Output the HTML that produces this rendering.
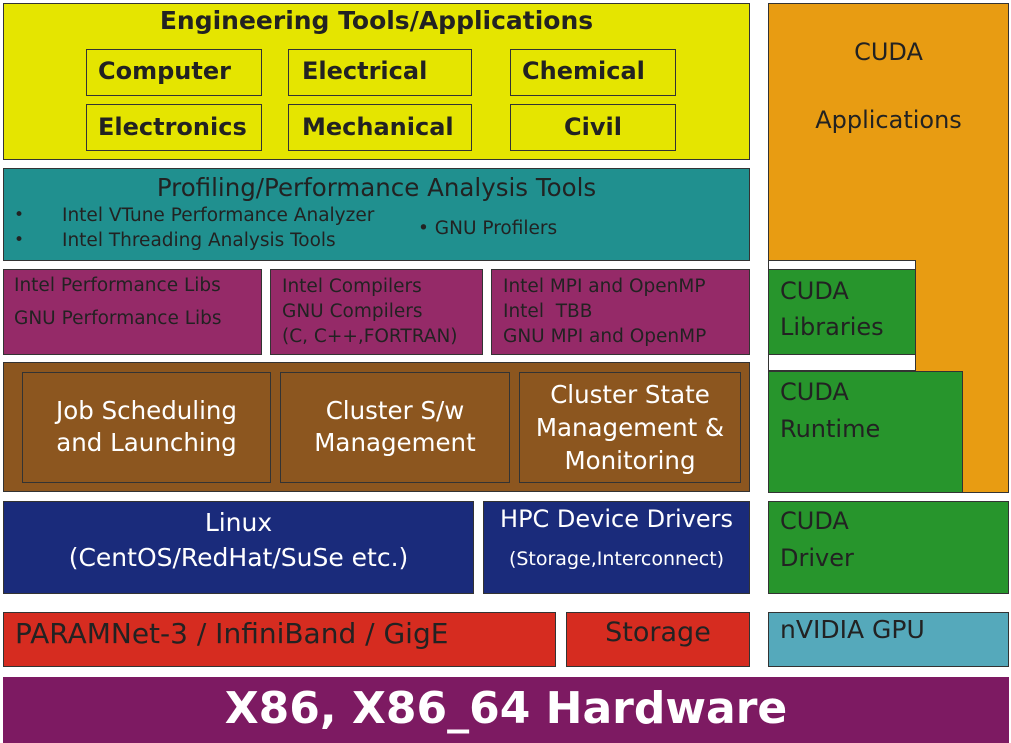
<!DOCTYPE html>
<html><head><style>
body{margin:0;width:1011px;height:743px;background:#fff;position:relative;overflow:hidden;font-family:"DejaVu Sans","Liberation Sans",sans-serif;}
.b{position:absolute;box-sizing:border-box;border:1.5px solid #333;}
.t{position:absolute;white-space:nowrap;color:#222;}
.c{text-align:center;}
.w{color:#fff;}
</style></head><body>
<div class="b" style="left:3px;top:3px;width:747px;height:157px;background:#e5e500"></div>
<div class="t c" style="left:3px;top:6px;width:747px;font-size:25px;font-weight:bold">Engineering Tools/Applications</div>
<div class="b" style="left:86px;top:49px;width:176px;height:47px;"></div>
<div class="b" style="left:288px;top:49px;width:184px;height:47px;"></div>
<div class="b" style="left:510px;top:49px;width:166px;height:47px;"></div>
<div class="b" style="left:86px;top:104px;width:176px;height:47px;"></div>
<div class="b" style="left:288px;top:104px;width:184px;height:47px;"></div>
<div class="b" style="left:510px;top:104px;width:166px;height:47px;"></div>
<div class="t" style="left:98px;top:57px;font-size:24px;font-weight:bold">Computer</div>
<div class="t" style="left:302px;top:57px;font-size:24px;font-weight:bold">Electrical</div>
<div class="t" style="left:522px;top:57px;font-size:24px;font-weight:bold">Chemical</div>
<div class="t" style="left:98px;top:113px;font-size:24px;font-weight:bold">Electronics</div>
<div class="t" style="left:302px;top:113px;font-size:24px;font-weight:bold">Mechanical</div>
<div class="t" style="left:564px;top:113px;font-size:24px;font-weight:bold">Civil</div>

<div class="b" style="left:3px;top:168px;width:747px;height:93px;background:#20908f"></div>
<div class="t c" style="left:3px;top:173px;width:747px;font-size:24.5px">Profiling/Performance Analysis Tools</div>
<div class="t" style="left:14px;top:205px;font-size:17px">•</div>
<div class="t" style="left:14px;top:230px;font-size:17px">•</div>
<div class="t" style="left:62px;top:205px;font-size:18.5px">Intel VTune Performance Analyzer</div>
<div class="t" style="left:62px;top:230px;font-size:18.5px">Intel Threading Analysis Tools</div>
<div class="t" style="left:418px;top:218px;font-size:18.5px">• GNU Profilers</div>

<div class="b" style="left:3px;top:269px;width:259px;height:86px;background:#952a68"></div>
<div class="b" style="left:270px;top:269px;width:213px;height:86px;background:#952a68"></div>
<div class="b" style="left:491px;top:269px;width:259px;height:86px;background:#952a68"></div>
<div class="t" style="left:14px;top:275px;font-size:18.5px">Intel Performance Libs</div>
<div class="t" style="left:14px;top:308px;font-size:18.5px">GNU Performance Libs</div>
<div class="t" style="left:282px;top:274px;font-size:18.5px;line-height:25px">Intel Compilers<br>GNU Compilers<br>(C, C++,FORTRAN)</div>
<div class="t" style="left:503px;top:274px;font-size:18.5px;line-height:25px">Intel MPI and OpenMP<br>Intel&nbsp; TBB<br>GNU MPI and OpenMP</div>

<div class="b" style="left:3px;top:362px;width:747px;height:130px;background:#8c561f"></div>
<div class="b" style="left:22px;top:372px;width:249px;height:111px;"></div>
<div class="b" style="left:280px;top:372px;width:230px;height:111px;"></div>
<div class="b" style="left:519px;top:372px;width:222px;height:111px;"></div>
<div class="t c w" style="left:22px;top:395px;width:249px;font-size:24.5px;line-height:32px">Job Scheduling<br>and Launching</div>
<div class="t c w" style="left:280px;top:395px;width:230px;font-size:24.5px;line-height:32px">Cluster S/w<br>Management</div>
<div class="t c w" style="left:519px;top:378px;width:222px;font-size:24.5px;line-height:33px">Cluster State<br>Management &amp;<br>Monitoring</div>

<div class="b" style="left:3px;top:501px;width:471px;height:93px;background:#1a2b7b"></div>
<div class="b" style="left:483px;top:501px;width:267px;height:93px;background:#1a2b7b"></div>
<div class="t c w" style="left:3px;top:505px;width:471px;font-size:25px;line-height:35px">Linux<br>(CentOS/RedHat/SuSe etc.)</div>
<div class="t c w" style="left:483px;top:505px;width:267px;font-size:24px">HPC Device Drivers</div>
<div class="t c w" style="left:483px;top:548px;width:267px;font-size:19px">(Storage,Interconnect)</div>

<div class="b" style="left:3px;top:612px;width:553px;height:55px;background:#d62c20"></div>
<div class="b" style="left:566px;top:612px;width:184px;height:55px;background:#d62c20"></div>
<div class="t" style="left:15px;top:617px;font-size:28px">PARAMNet-3 / InfiniBand / GigE</div>
<div class="t c" style="left:566px;top:617px;width:184px;font-size:27px">Storage</div>

<div class="b" style="left:768px;top:3px;width:241px;height:490px;background:#e89c12"></div>
<div class="t c" style="left:768px;top:38px;width:241px;font-size:24px">CUDA</div>
<div class="t c" style="left:768px;top:106px;width:241px;font-size:24px">Applications</div>
<div class="b" style="left:768px;top:260px;width:148px;height:111px;background:#fff"></div>
<div class="b" style="left:768px;top:269px;width:148px;height:86px;background:#27952c"></div>
<div class="t" style="left:780px;top:273px;font-size:24px;line-height:36px">CUDA<br>Libraries</div>
<div class="b" style="left:768px;top:371px;width:195px;height:122px;background:#27952c"></div>
<div class="t" style="left:780px;top:374px;font-size:24px;line-height:37px">CUDA<br>Runtime</div>
<div class="b" style="left:768px;top:501px;width:241px;height:93px;background:#27952c"></div>
<div class="t" style="left:780px;top:503px;font-size:24px;line-height:37px">CUDA<br>Driver</div>
<div class="b" style="left:768px;top:612px;width:241px;height:55px;background:#55a9bb"></div>
<div class="t" style="left:780px;top:615px;font-size:25px">nVIDIA GPU</div>

<div style="position:absolute;left:3px;top:677px;width:1006px;height:66px;background:#7d1a62"></div>
<div class="t c w" style="left:3px;top:683px;width:1006px;font-size:44px;font-weight:bold">X86, X86_64 Hardware</div>
</body></html>
